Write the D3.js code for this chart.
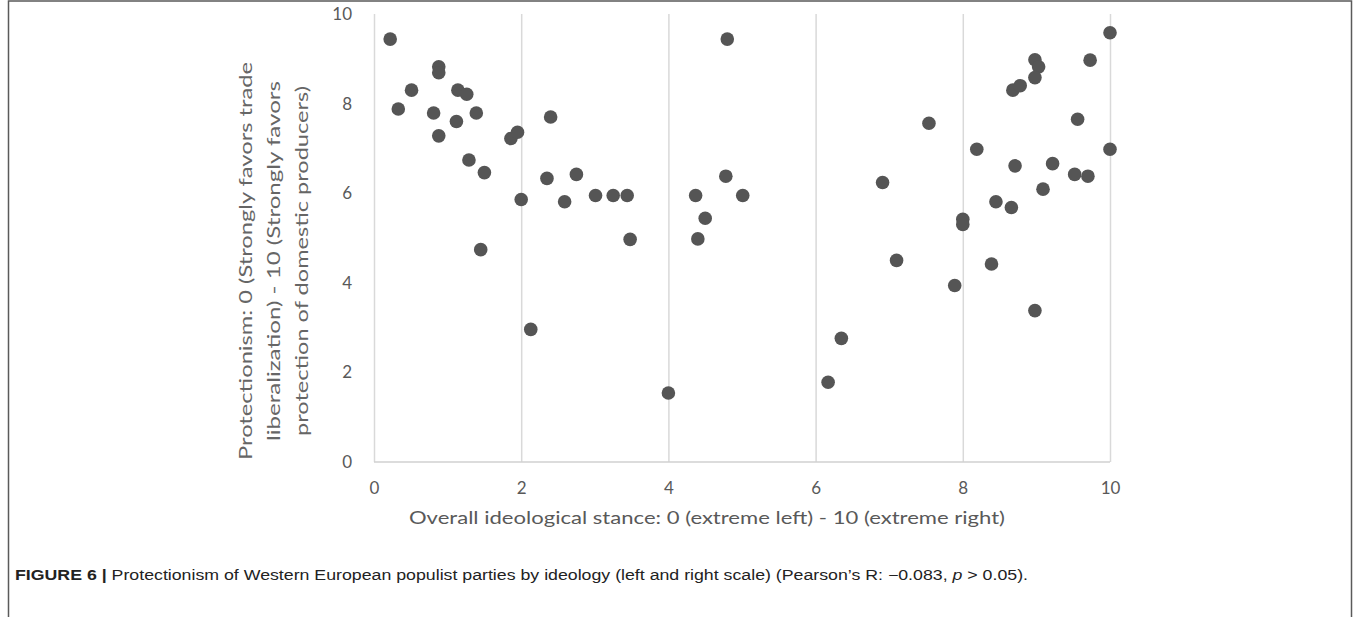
<!DOCTYPE html>
<html>
<head>
<meta charset="utf-8">
<script src="https://cdn.jsdelivr.net/npm/d3@7/dist/d3.min.js"></script>
<style>
  html, body { margin: 0; padding: 0; background: #fff; }
  svg { display: block; }
</style>
</head>
<body>
<svg id="chart" width="1360" height="617"></svg>
<script>
// ---- data ----
const ideology = [0.22, 0.33, 0.51, 0.88, 0.88, 0.81, 0.88, 1.14, 1.26, 1.12,
  1.39, 1.29, 1.50, 1.86, 1.95, 2.40, 2.00, 2.35, 2.59, 2.75,
  3.01, 3.25, 3.44, 1.45, 2.13, 3.48, 4.80, 4.78, 4.37, 5.01,
  4.50, 4.40, 4.00, 6.17, 6.35, 10.0, 9.73, 8.98, 9.03, 8.98,
  8.68, 8.78, 7.54, 9.56, 8.19, 10.0, 8.71, 9.22, 9.52, 9.70,
  9.09, 6.91, 8.45, 8.66, 8.00, 8.00, 7.10, 8.39, 7.89, 8.98];
const protectionism = [9.44, 7.88, 8.30, 8.82, 8.69, 7.79, 7.28, 8.30, 8.21, 7.60,
  7.79, 6.74, 6.46, 7.22, 7.36, 7.70, 5.86, 6.33, 5.81, 6.42,
  5.95, 5.95, 5.95, 4.74, 2.96, 4.97, 9.44, 6.38, 5.95, 5.95,
  5.44, 4.98, 1.54, 1.78, 2.76, 9.58, 8.97, 8.98, 8.82, 8.58,
  8.30, 8.40, 7.56, 7.65, 6.98, 6.98, 6.61, 6.66, 6.42, 6.38,
  6.09, 6.24, 5.81, 5.68, 5.42, 5.30, 4.50, 4.42, 3.94, 3.38];
const xTicks = [0, 2, 4, 6, 8, 10];
const yTicks = [0, 2, 4, 6, 8, 10];
const xTitle = "Overall ideological stance: 0 (extreme  left) - 10 (extreme  right)";
const yTitleLines = ["Protectionism: 0 (Strongly favors trade",
  "liberalization) - 10 (Strongly favors",
  "protection of domestic producers)"];
const captionLabel = "FIGURE 6 |";
const captionText = " Protectionism of Western European populist parties by ideology (left and right scale) (Pearson\u2019s R: \u22120.083, ";

// ---- layout ----
const svg = d3.select("#chart");
const chartFont = "Lato, 'Open Sans', sans-serif";
const textGrey = "#595959";

const x = d3.scaleLinear().domain([0, 10]).range([374, 1110]);
const y = d3.scaleLinear().domain([0, 10]).range([462, 14]);

// frame (top, left, right edges; bottom runs off the picture)
svg.append("rect")
  .attr("x", 8.5).attr("y", 1).attr("width", 1343).attr("height", 640)
  .attr("fill", "none").attr("stroke", "#5a5a5a").attr("stroke-width", 1.5);

// vertical gridlines + x tick labels
const gx = svg.append("g").attr("transform", `translate(0,${y(0)})`)
  .call(d3.axisBottom(x).tickValues(xTicks).tickSize(-(y(0) - y(10))).tickPadding(20).tickFormat(d3.format("d")));
gx.select(".domain").remove();
gx.selectAll(".tick line").attr("stroke", "#d9d9d9").attr("stroke-width", 1.5);
gx.selectAll(".tick text").attr("fill", textGrey).style("font-family", chartFont).style("font-size", "17px");

// horizontal axis line
svg.append("line")
  .attr("x1", x(0)).attr("x2", x(10)).attr("y1", y(0)).attr("y2", y(0))
  .attr("stroke", "#d0d0d0").attr("stroke-width", 1.5);

// y tick labels
const gy = svg.append("g").attr("transform", `translate(${x(0)},0)`)
  .call(d3.axisLeft(y).tickValues(yTicks).tickSize(0).tickPadding(22).tickFormat(d3.format("d")));
gy.select(".domain").remove();
gy.selectAll(".tick text").attr("fill", textGrey).style("font-family", chartFont).style("font-size", "17px");

// points
svg.append("g").selectAll("circle")
  .data(ideology.map((v, i) => [v, protectionism[i]]))
  .join("circle")
  .attr("cx", d => x(d[0])).attr("cy", d => y(d[1]))
  .attr("r", 6.8).attr("fill", "#555555");

// x title
svg.append("text")
  .attr("x", 707).attr("y", 524)
  .attr("text-anchor", "middle")
  .attr("fill", textGrey).style("font-family", chartFont).style("font-size", "18px")
  .attr("textLength", 596).attr("lengthAdjust", "spacingAndGlyphs")
  .text(xTitle);

// y title (three rotated lines)
const yLineX = [246, 274, 302];
const yLineLen = [398, 360, 350];
yTitleLines.forEach((t, i) => {
  svg.append("text")
    .attr("transform", `translate(${yLineX[i]},261) rotate(-90)`)
    .attr("text-anchor", "middle")
    .attr("dy", "0.35em")
    .attr("fill", "#666").style("font-family", chartFont).style("font-size", "17px")
    .attr("textLength", yLineLen[i]).attr("lengthAdjust", "spacingAndGlyphs")
    .text(t);
});

// caption
const cap = svg.append("text")
  .attr("x", 15).attr("y", 580)
  .attr("fill", "#222").style("font-family", "'Liberation Sans Narrow', 'Arial Narrow', 'Liberation Sans', sans-serif").style("font-size", "14px")
  .attr("textLength", 1013).attr("lengthAdjust", "spacingAndGlyphs");
cap.append("tspan").attr("font-weight", "bold").text(captionLabel);
cap.append("tspan").text(captionText);
cap.append("tspan").attr("font-style", "italic").text("p");
cap.append("tspan").text(" > 0.05).");
</script>
</body>
</html>
